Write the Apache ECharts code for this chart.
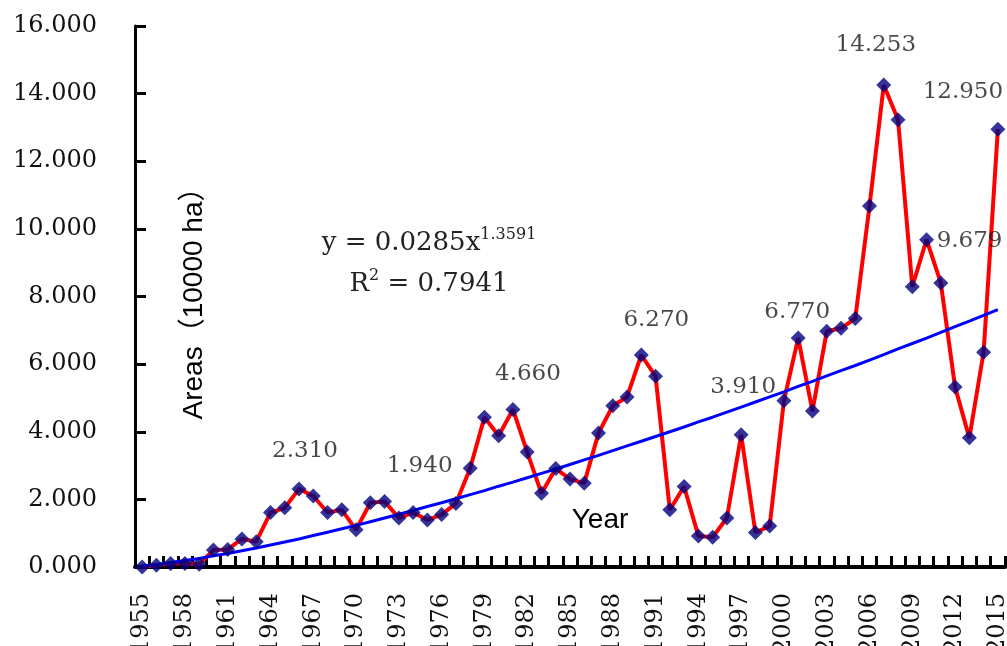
<!DOCTYPE html>
<html><head><meta charset="utf-8">
<script src="https://cdn.jsdelivr.net/npm/echarts@6/dist/echarts.min.js"></script>
<style>html,body{margin:0;padding:0;background:#fff}#c{width:1007px;height:646px}</style>
</head><body><div id="c"></div>
<script>
const years = ['1955','1956','1957','1958','1959','1960','1961','1962','1963','1964',
  '1965','1966','1967','1968','1969','1970','1971','1972','1973','1974',
  '1975','1976','1977','1978','1979','1980','1981','1982','1983','1984',
  '1985','1986','1987','1988','1989','1990','1991','1992','1993','1994',
  '1995','1996','1997','1998','1999','2000','2001','2002','2003','2004',
  '2005','2006','2007','2008','2009','2010','2011','2012','2013','2014','2015'];
const areas = [0.00,0.05,0.10,0.10,0.08,0.50,0.52,0.83,0.75,1.61,
  1.75,2.31,2.10,1.61,1.69,1.10,1.90,1.94,1.45,1.61,
  1.39,1.55,1.88,2.92,4.43,3.88,4.66,3.40,2.18,2.91,
  2.60,2.48,3.96,4.77,5.03,6.27,5.64,1.69,2.38,0.92,
  0.88,1.45,3.91,1.02,1.21,4.92,6.77,4.61,6.97,7.06,
  7.35,10.68,14.253,13.23,8.29,9.679,8.40,5.32,3.82,6.35,12.95];
const trend = [0.03,0.07,0.13,0.19,0.25,0.33,0.40,0.48,0.56,0.65,
  0.74,0.83,0.93,1.03,1.13,1.23,1.34,1.45,1.56,1.67,
  1.79,1.90,2.02,2.14,2.26,2.39,2.51,2.64,2.77,2.90,
  3.03,3.17,3.30,3.44,3.58,3.72,3.86,4.00,4.14,4.29,
  4.43,4.58,4.73,4.88,5.03,5.18,5.34,5.49,5.65,5.81,
  5.96,6.12,6.28,6.45,6.61,6.77,6.94,7.11,7.27,7.44,7.61];
const labelYears = ['1966','1972','1981','1990','1997','2001','2007','2010','2015'];
const yMin = 0, yMax = 16, yStep = 2;

// label placement (layout only)
const labelOffsets = {
  '1966':[6,-38], '1972':[35,-35], '1981':[15,-35], '1990':[15,-35],
  '1997':[2,-48], '2001':[-1,-26], '2007':[-8,-40], '2010':[43,1], '2015':[-35,-37]
};

const serif = 'DejaVu Serif';
const sans = 'Liberation Sans, Arial, Noto Sans CJK SC, sans-serif';

const markerData = areas.map((v, i) => {
  const y = years[i];
  if (labelYears.indexOf(y) >= 0) {
    return { value: v, label: { show: true, position: 'inside', offset: labelOffsets[y],
      formatter: v.toFixed(3) } };
  }
  return v;
});

const chart = echarts.init(document.getElementById('c'), null, {renderer: 'canvas'});
chart.setOption({
  animation: false,
  backgroundColor: '#fff',
  grid: { left: 135, right: 2, top: 26, bottom: 79, containLabel: false, outerBoundsMode: 'none' },
  xAxis: {
    type: 'category',
    data: years,
    boundaryGap: true,
    name: 'Year',
    nameLocation: 'middle',
    nameGap: -61,
    nameTextStyle: { fontFamily: sans, fontSize: 28, color: '#000', padding: [0, 0, 0, 60] },
    axisLine: { lineStyle: { color: '#000', width: 4 } },
    axisTick: { show: true, inside: true, length: 11, interval: 0, lineStyle: { color: '#000', width: 3 } },
    axisLabel: { interval: 2, rotate: 90, margin: 26, fontFamily: serif, fontSize: 24, color: '#111' },
    splitLine: { show: false }
  },
  yAxis: {
    type: 'value',
    min: yMin, max: yMax, interval: yStep,
    name: 'Areas（10000 ha）',
    nameLocation: 'middle',
    nameRotate: 90,
    nameGap: -73,
    nameTextStyle: { fontFamily: sans, fontSize: 28, color: '#000' },
    axisLine: { show: true, lineStyle: { color: '#000', width: 3 } },
    axisTick: { show: true, inside: true, length: 11, lineStyle: { color: '#000', width: 3 } },
    axisLabel: { margin: 38, fontFamily: serif, fontSize: 24, color: '#111',
      formatter: v => v.toFixed(3) },
    splitLine: { show: false }
  },
  graphic: [
    { type: 'text', x: 429, y: 243, z: 10,
      style: { text: '{m|y = 0.0285x}{s|1.3591}', align: 'center', verticalAlign: 'middle',
        rich: { m: { fontFamily: serif, fontSize: 26, fill: '#222', lineHeight: 32 },
                s: { fontFamily: serif, fontSize: 16, fill: '#222', verticalAlign: 'top', lineHeight: 32 } } } },
    { type: 'text', x: 429, y: 284, z: 10,
      style: { text: '{m|R}{s|2}{m| = 0.7941}', align: 'center', verticalAlign: 'middle',
        rich: { m: { fontFamily: serif, fontSize: 26, fill: '#222', lineHeight: 32 },
                s: { fontFamily: serif, fontSize: 16, fill: '#222', verticalAlign: 'top', lineHeight: 32 } } } }
  ],
  series: [
    { type: 'line', data: areas, symbol: 'none', z: 2,
      lineStyle: { color: '#ff0000', width: 4 } },
    { type: 'line', data: trend, symbol: 'none', z: 3,
      lineStyle: { color: '#0000ff', width: 3 } },
    { type: 'scatter', data: markerData, symbol: 'diamond', symbolSize: 15, z: 4,
      itemStyle: { color: '#000080' },
      label: { fontFamily: serif, fontSize: 23, color: '#1a1a1a' } }
  ]
});
</script></body></html>
